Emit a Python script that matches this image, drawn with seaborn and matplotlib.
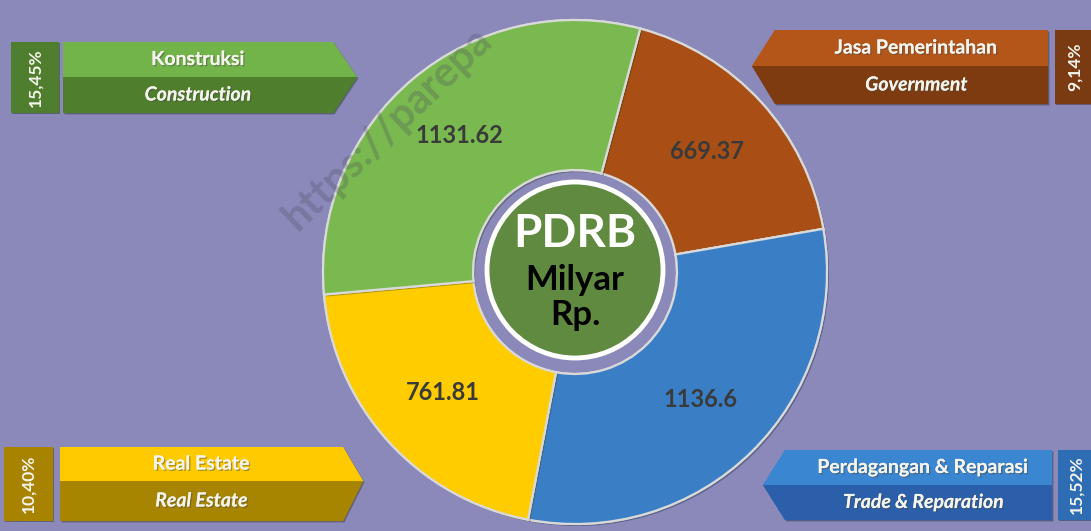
import matplotlib
matplotlib.use("Agg")
import matplotlib.pyplot as plt
import matplotlib.patheffects as pe
from matplotlib.patches import Polygon, Rectangle, Circle
import seaborn as sns

# ---------------- data ----------------
sectors_id = ["Jasa Pemerintahan", "Perdagangan & Reparasi", "Real Estate", "Konstruksi"]
sectors_en = ["Government", "Trade & Reparation", "Real Estate", "Construction"]
values = [669.37, 1136.6, 761.81, 1131.62]
value_labels = ["669.37", "1136.6", "761.81", "1131.62"]
shares = ["9,14%", "15,52%", "10,40%", "15,45%"]
center_title = "PDRB"
center_sub = ["Milyar", "Rp."]
watermark = "https://parepa"

wedge_colors = ["#A94F15", "#3A7FC6", "#FFCC00", "#79B94F"]
box_top = ["#B4561A", "#3A86D0", "#FFCA00", "#72B44A"]
box_bot = ["#7D3B0F", "#2C5FAA", "#A88500", "#4F7F2D"]
box_pct = ["#7A3A12", "#2E6DB4", "#A78300", "#4E7E2E"]
bg = "#8A89B9"

sns.set_theme(style="white")
plt.rcParams["font.family"] = ["Lato", "DejaVu Sans"]

W, H = 1091, 531
fig = plt.figure(figsize=(W / 100, H / 100), dpi=100, facecolor=bg)
ax = fig.add_axes([0, 0, 1, 1])
ax.set_facecolor(bg)

def Y(y):
    return H - y

cx, cy = 575, 272
R = 252

it = iter(value_labels)
wedges, _, autotexts = ax.pie(
    values, colors=wedge_colors, startangle=75, counterclock=False,
    radius=R, center=(cx, Y(cy)),
    wedgeprops=dict(width=150, edgecolor="#D9D9D9", linewidth=1.6),
    autopct=lambda p: next(it), pctdistance=0.71,
    textprops=dict(fontsize=17, fontweight="bold", color="#3A3A3A"),
    frame=True,
)
for w in wedges:
    w.set_path_effects([pe.withSimplePatchShadow(offset=(1.5, -1.5), alpha=0.35), pe.Normal()])

# center disc
ax.add_patch(Circle((cx, Y(cy - 2)), 88, facecolor="#5F8A3F", edgecolor="white",
                    linewidth=3.5, zorder=5))
ax.text(cx, Y(247), center_title, ha="center", va="baseline", fontsize=33,
        fontweight="bold", color="white", zorder=6)
ax.text(cx, Y(290), center_sub[0], ha="center", va="baseline", fontsize=25,
        fontweight="bold", color="black", zorder=6)
ax.text(cx, Y(325), center_sub[1], ha="center", va="baseline", fontsize=25,
        fontweight="bold", color="black", zorder=6)

# watermark
ax.text(298, Y(232), watermark, rotation=44, rotation_mode="anchor", ha="left",
        va="baseline", fontsize=30, fontweight="bold", color="#4A4A5E", alpha=0.28,
        zorder=7)

shadow = [pe.withSimplePatchShadow(offset=(1, -1), alpha=0.4)]
txt_fx = [pe.withSimplePatchShadow(offset=(1, -1), alpha=0.45), pe.Normal()]

def label_box(i, x0, x1, top, bot, tip_x, tip_y, right_tip, pct_x0, pct_x1, ptop, pbot):
    if right_tip:
        top_poly = [(x0, Y(top)), (x1, Y(top)), (tip_x, Y(tip_y)), (x0, Y(tip_y))]
        bot_poly = [(x0, Y(tip_y)), (tip_x, Y(tip_y)), (x1, Y(bot)), (x0, Y(bot))]
    else:
        top_poly = [(x1, Y(top)), (x0, Y(top)), (tip_x, Y(tip_y)), (x1, Y(tip_y))]
        bot_poly = [(x1, Y(tip_y)), (tip_x, Y(tip_y)), (x0, Y(bot)), (x1, Y(bot))]
    ax.add_patch(Polygon(top_poly, closed=True, facecolor=box_top[i], edgecolor="none",
                         zorder=3, path_effects=shadow + [pe.Normal()]))
    ax.add_patch(Polygon(bot_poly, closed=True, facecolor=box_bot[i], edgecolor="none",
                         zorder=3, path_effects=shadow + [pe.Normal()]))
    ax.add_patch(Rectangle((pct_x0, Y(pbot)), pct_x1 - pct_x0, pbot - ptop,
                           facecolor=box_pct[i], edgecolor="none", zorder=3,
                           path_effects=shadow + [pe.Normal()]))
    tx = (x0 + x1) / 2 if right_tip else (x0 + x1) / 2 + 5
    ax.text(tx, Y((top + tip_y) / 2), sectors_id[i], ha="center", va="center",
            fontsize=14, fontweight="bold", color="#F4F4EC", zorder=4, path_effects=txt_fx)
    ax.text(tx, Y((tip_y + bot) / 2), sectors_en[i], ha="center", va="center",
            fontsize=14, fontweight="bold", fontstyle="italic", color="#F4F4EC",
            zorder=4, path_effects=txt_fx)
    ax.text((pct_x0 + pct_x1) / 2, Y((ptop + pbot) / 2), shares[i], rotation=90,
            ha="center", va="center", fontsize=12.5, fontweight="bold",
            color="#F4F4EC", zorder=4)

# Konstruksi (top-left)
label_box(3, 63, 333, 42, 113, 357, 77, True, 11, 59, 42, 113)
# Jasa Pemerintahan (top-right)
label_box(0, 775, 1048, 30, 104, 752, 66, False, 1055, 1095, 30, 104)
# Real Estate (bottom-left)
label_box(2, 60, 343, 447, 521, 363, 481, True, 4, 53, 447, 521)
# Perdagangan & Reparasi (bottom-right)
label_box(1, 785, 1052, 450, 520, 763, 485, False, 1058, 1095, 450, 520)

ax.set_xlim(0, W)
ax.set_ylim(0, H)
ax.set_aspect("equal")
ax.axis("off")

fig.savefig("out.png", dpi=100, facecolor=bg)
